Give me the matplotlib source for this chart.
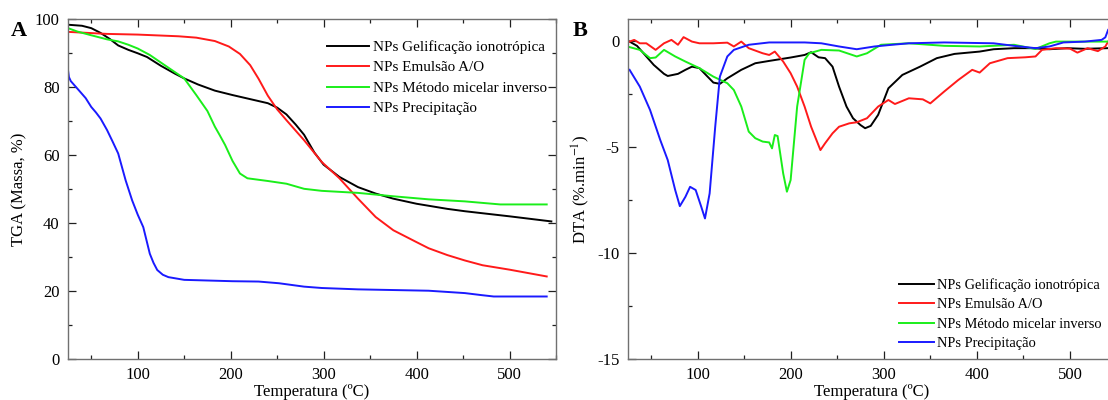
import numpy as np
import matplotlib
matplotlib.use("Agg")
import matplotlib.pyplot as plt
from matplotlib.ticker import MultipleLocator

plt.rcParams['font.family'] = ['Liberation Serif', 'DejaVu Serif']
plt.rcParams['mathtext.fontset'] = 'stix'
plt.rcParams['axes.unicode_minus'] = False

labels = ['NPs Gelificação ionotrópica', 'NPs Emulsão A/O',
          'NPs Método micelar inverso', 'NPs Precipitação']
colors = ['#000000', '#ff1a1a', '#1aee1a', '#1a1aff']

# --- TGA (panel A) ---
tga_gel_x = [25, 40, 50, 60, 70, 79, 90, 100, 110, 125, 140, 150, 165, 183, 202, 221, 240, 250,
             260, 270, 279, 290, 300, 317, 337, 356, 375, 400, 433, 452, 500, 545]
tga_gel_y = [98.4, 98.1, 97.4, 96.0, 94.2, 92.3, 91.0, 90.0, 88.9, 86.3, 84.0, 82.6, 80.8, 79.0,
             77.7, 76.5, 75.3, 74.0, 72.0, 69.0, 66.0, 60.8, 57.2, 53.6, 50.6, 48.7, 47.2, 45.7,
             44.2, 43.5, 42.0, 40.5]

tga_emu_x = [25, 67, 100, 144, 163, 183, 198, 210, 221, 230, 240, 250, 260, 279, 298, 317, 337,
             356, 375, 400, 413, 433, 452, 471, 500, 540]
tga_emu_y = [96.3, 95.7, 95.5, 95.0, 94.6, 93.6, 92.0, 89.8, 86.5, 82.5, 77.5, 73.5, 70.3, 64.4,
             58.0, 53.2, 47.2, 41.8, 37.9, 34.4, 32.6, 30.6, 29.0, 27.6, 26.3, 24.3]

tga_mic_x = [25, 35, 50, 67, 79, 90, 100, 113, 129, 150, 163, 175, 183, 188, 194, 202, 210, 218,
             240, 260, 279, 298, 337, 375, 413, 452, 490, 540]
tga_mic_y = [97.4, 96.4, 95.3, 94.1, 93.5, 92.5, 91.4, 89.5, 86.5, 82.6, 77.7, 73.0, 68.4, 66.0,
             63.0, 58.3, 54.6, 53.2, 52.4, 51.6, 50.1, 49.5, 48.9, 47.9, 47.0, 46.4, 45.5, 45.5]

tga_pre_x = [25, 26, 28, 37, 44, 50, 55, 60, 67, 73, 79, 87, 94, 100, 106, 113, 117, 121, 127,
             133, 150, 202, 230, 252, 279, 298, 337, 413, 452, 470, 483, 540]
tga_pre_y = [85.0, 83.0, 81.8, 79.0, 76.8, 74.2, 72.6, 70.8, 67.4, 64.0, 60.5, 52.6, 46.7, 42.5,
             38.8, 31.0, 28.3, 26.2, 24.8, 24.1, 23.3, 22.9, 22.8, 22.3, 21.3, 20.9, 20.5,
             20.1, 19.4, 18.8, 18.4, 18.4]

# --- DTA (panel B) ---
dta_gel_x = [27, 35, 42, 53, 64, 68, 79, 87, 94, 102, 109, 117, 124, 132, 147, 162, 177, 200,
             215, 222, 230, 237, 245, 252, 260, 267, 275, 280, 286, 294, 305, 320, 339, 357, 376,
             403, 418, 440, 459, 478, 497, 516, 540]
dta_gel_y = [-0.05, -0.25, -0.6, -1.15, -1.57, -1.67, -1.57, -1.38, -1.23, -1.3, -1.62, -1.98,
             -2.04, -1.78, -1.38, -1.07, -0.96, -0.8, -0.68, -0.55, -0.79, -0.83, -1.23, -2.17,
             -3.11, -3.66, -3.98, -4.13, -4.02, -3.5, -2.25, -1.62, -1.23, -0.83, -0.63, -0.52,
             -0.41, -0.36, -0.36, -0.41, -0.36, -0.39, -0.36]

dta_emu_x = [27, 32, 38, 45, 55, 64, 72, 79, 85, 94, 102, 117, 132, 139, 147, 155, 170, 177, 183,
             192, 200, 207, 215, 222, 232, 237, 245, 252, 263, 271, 282, 294, 305, 312, 327, 342,
             350, 365, 380, 395, 403, 414, 433, 452, 463, 470, 485, 500, 508, 519, 530, 538, 541]
dta_emu_y = [-0.05, 0.03, -0.13, -0.13, -0.44, -0.13, 0.03, -0.2, 0.16, -0.05, -0.13, -0.13,
             -0.1, -0.28, -0.05, -0.36, -0.6, -0.68, -0.52, -0.99, -1.54, -2.17, -3.11, -4.06,
             -5.16, -4.84, -4.37, -4.06, -3.9, -3.85, -3.66, -3.11, -2.8, -2.99, -2.72, -2.77,
             -2.96, -2.4, -1.86, -1.38, -1.51, -1.07, -0.83, -0.79, -0.75, -0.44, -0.36, -0.38,
             -0.57, -0.36, -0.5, -0.28, -0.05]

dta_mic_x = [27, 38, 49, 55, 64, 76, 87, 102, 117, 132, 139, 147, 155, 162, 170, 177, 180, 183,
             186, 192, 196, 200, 207, 215, 220, 233, 252, 271, 282, 297, 327, 365, 403, 440, 463,
             478, 485, 540]
dta_mic_y = [-0.31, -0.44, -0.83, -0.8, -0.44, -0.75, -0.99, -1.3, -1.7, -2.01, -2.33, -3.11,
             -4.29, -4.6, -4.76, -4.8, -5.08, -4.45, -4.5, -6.26, -7.12, -6.57, -3.11, -0.91, -0.6,
             -0.44, -0.47, -0.75, -0.6, -0.2, -0.13, -0.25, -0.28, -0.2, -0.4, -0.13, -0.05,
             -0.05]

dta_pre_x = [27, 38, 49, 60, 68, 76, 81, 87, 92, 98, 104, 108, 113, 119, 124, 132, 139, 155, 177,
             215, 233, 252, 271, 290, 309, 327, 365, 418, 440, 463, 478, 493, 516, 534, 538, 541]
dta_pre_y = [-1.38, -2.17, -3.27, -4.69, -5.63, -7.04, -7.8, -7.36, -6.89, -7.04, -7.83, -8.38,
             -7.2, -4.06, -1.7, -0.75, -0.44, -0.2, -0.09, -0.09, -0.13, -0.28, -0.41, -0.28,
             -0.2, -0.13, -0.09, -0.13, -0.25, -0.36, -0.28, -0.09, -0.05, 0.03, 0.15, 0.5]

W, H = 1108, 400
fig = plt.figure(figsize=(W / 100, H / 100), dpi=100)


def px_axes(left, right, top, bottom):
    return fig.add_axes([left / W, (H - bottom) / H, (right - left) / W, (bottom - top) / H])


def style(ax):
    for s in ax.spines.values():
        s.set_color('#707070')
        s.set_linewidth(1.0)
    ax.tick_params(which='both', direction='in', top=True, right=True, labelsize=12,
                   pad=6, colors='#202020', labelcolor='black')
    ax.tick_params(which='major', length=6, width=0.9)
    ax.tick_params(which='minor', length=3, width=0.9)
    ax.xaxis.set_major_locator(MultipleLocator(100))
    ax.xaxis.set_minor_locator(MultipleLocator(50))
    ax.set_xlim(25, 550)


axA = px_axes(68, 556, 19.3, 359)
style(axA)
axA.plot(tga_gel_x, tga_gel_y, color=colors[0], lw=1.4, label=labels[0])
axA.plot(tga_emu_x, tga_emu_y, color=colors[1], lw=1.4, label=labels[1])
axA.plot(tga_mic_x, tga_mic_y, color=colors[2], lw=1.4, label=labels[2])
axA.plot(tga_pre_x, tga_pre_y, color=colors[3], lw=1.4, label=labels[3])
axA.set_ylim(0, 100)
axA.yaxis.set_major_locator(MultipleLocator(20))
axA.yaxis.set_minor_locator(MultipleLocator(10))
axA.set_xlabel('Temperatura (ºC)', fontsize=12)
axA.set_ylabel('TGA (Massa, %)', fontsize=12)
axA.xaxis.set_label_coords(0.5, -0.074)
axA.yaxis.set_label_coords(-0.084, 0.5)
axA.legend(loc='upper right', bbox_to_anchor=(1.0, 0.965), frameon=False, fontsize=10.9,
           handlelength=2.8, handletextpad=0.25, labelspacing=0.45, borderaxespad=0.2)
fig.text(19 / W, 1 - 31 / H, 'A', fontsize=16, fontweight='bold', ha='center', va='center')

axB = px_axes(627.7, 1116.5, 19.3, 359)
style(axB)
axB.plot(dta_gel_x, dta_gel_y, color=colors[0], lw=1.4, label=labels[0])
axB.plot(dta_emu_x, dta_emu_y, color=colors[1], lw=1.4, label=labels[1])
axB.plot(dta_mic_x, dta_mic_y, color=colors[2], lw=1.4, label=labels[2])
axB.plot(dta_pre_x, dta_pre_y, color=colors[3], lw=1.4, label=labels[3])
axB.set_ylim(-15, 1)
axB.yaxis.set_major_locator(MultipleLocator(5))
axB.yaxis.set_minor_locator(MultipleLocator(2.5))
axB.set_xlabel('Temperatura (ºC)', fontsize=12)
axB.set_ylabel('DTA (%.min$^{-1}$)', fontsize=12)
axB.xaxis.set_label_coords(0.5, -0.074)
axB.yaxis.set_label_coords(-0.073, 0.5)
axB.legend(loc='lower left', bbox_to_anchor=((893 - 627.7) / (1116.5 - 627.7), 0.01),
           frameon=False, fontsize=10.4, handlelength=2.45, handletextpad=0.22,
           labelspacing=0.42, borderaxespad=0.0)
fig.text(580.5 / W, 1 - 31 / H, 'B', fontsize=16, fontweight='bold', ha='center', va='center')

fig.savefig('out.png', dpi=100)
